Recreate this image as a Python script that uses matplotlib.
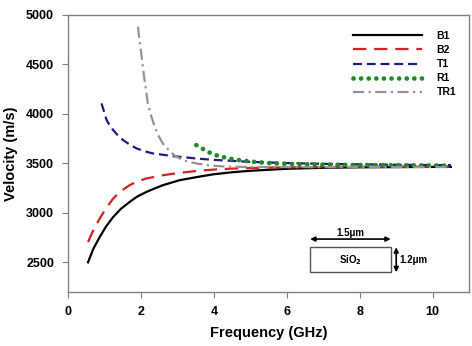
import matplotlib
matplotlib.use("Agg")
import matplotlib.pyplot as plt

plt.rcParams["font.family"] = ["Liberation Sans", "DejaVu Sans"]
plt.rcParams["font.weight"] = "bold"

# ---- data ----
b1_x = [0.55, 0.7, 0.87, 1.05, 1.24, 1.45, 1.69, 1.9, 2.15, 2.4, 2.6, 3.06, 3.56, 4.0, 4.5, 5.0, 6.0, 7.0, 8.0, 9.0, 10.0, 10.5]
b1_y = [2500, 2640, 2756, 2865, 2958, 3040, 3110, 3165, 3211, 3250, 3279, 3330, 3363, 3390, 3410, 3425, 3445, 3455, 3460, 3462, 3464, 3464]

b2_x = [0.55, 0.7, 0.87, 1.05, 1.24, 1.45, 1.69, 1.9, 2.15, 2.6, 3.06, 3.56, 4.0, 4.5, 5.0, 6.0, 7.0, 8.0, 9.0, 10.0, 10.5]
b2_y = [2705, 2830, 2942, 3050, 3145, 3220, 3279, 3318, 3347, 3380, 3404, 3424, 3437, 3447, 3453, 3460, 3463, 3465, 3466, 3466, 3466]

t1_x = [0.92, 1.0, 1.06, 1.15, 1.24, 1.35, 1.51, 1.7, 1.88, 2.1, 2.33, 2.88, 3.52, 4.0, 5.0, 6.0, 7.0, 8.0, 9.0, 10.0, 10.5]
t1_y = [4106, 4010, 3937, 3880, 3836, 3790, 3735, 3688, 3651, 3622, 3600, 3573, 3549, 3535, 3515, 3503, 3495, 3490, 3486, 3483, 3482]

r1_x = [3.52, 3.72, 3.93, 4.13, 4.34, 4.56, 5.0, 5.5, 6.0, 7.0, 8.0, 9.0, 10.0, 10.5]
r1_y = [3684, 3641, 3600, 3573, 3556, 3539, 3518, 3503, 3495, 3487, 3483, 3480, 3478, 3477]

tr1_x = [1.92, 1.96, 2.01, 2.05, 2.1, 2.15, 2.19, 2.28, 2.38, 2.48, 2.6, 2.78, 2.97, 3.2, 3.52, 3.9, 4.34, 5.0, 6.0, 7.0, 8.0, 9.0, 10.0, 10.5]
tr1_y = [4881, 4740, 4612, 4480, 4342, 4215, 4106, 3980, 3869, 3780, 3701, 3625, 3566, 3527, 3499, 3478, 3467, 3463, 3462, 3462, 3463, 3463, 3463, 3463]

x_ticks = [0, 2, 4, 6, 8, 10]
y_ticks = [2500, 3000, 3500, 4000, 4500, 5000]

# ---- figure ----
fig = plt.figure(figsize=(4.72, 3.46), dpi=100)
ax = fig.add_axes([0.144, 0.156, 0.850, 0.801])

ax.plot(b1_x, b1_y, color="black", lw=1.6, label="B1")
ax.plot(b2_x, b2_y, color="#d42222", lw=1.6, dashes=(6, 3.5), label="B2")
ax.plot(t1_x, t1_y, color="#1c1c82", lw=1.6, dashes=(4, 2.2), label="T1")
ax.plot(r1_x, r1_y, color="#1f8a1f", lw=3.4, linestyle=(0, (0.01, 1.6)),
        dash_capstyle="round", label="R1")
ax.plot(tr1_x, tr1_y, color="#949494", lw=1.6, dashes=(5, 2, 1, 2), label="TR1")

ax.set_xlim(0, 11)
ax.set_ylim(2200, 5000)
ax.set_xticks(x_ticks)
ax.set_yticks(y_ticks)
ax.tick_params(direction="out", length=4, color="#808080", labelsize=9, pad=6)
for lab in ax.get_xticklabels() + ax.get_yticklabels():
    lab.set_fontweight("bold")
for sp in ax.spines.values():
    sp.set_color("#808080")
    sp.set_linewidth(1.0)

ax.set_xlabel("Frequency (GHz)", fontsize=10.5, fontweight="bold", labelpad=6)
ax.set_ylabel("Velocity (m/s)", fontsize=10.5, fontweight="bold", labelpad=6)

leg = ax.legend(loc="upper right", bbox_to_anchor=(0.983, 0.965), frameon=False,
                fontsize=7.5, handlelength=6.6, handletextpad=1.4,
                labelspacing=0.4, borderaxespad=0.2)
for t in leg.get_texts():
    t.set_fontweight("bold")

# ---- SiO2 cross-section sketch ----
ax.add_patch(plt.Rectangle((6.64, 2400), 2.21, 252, fill=False,
                           edgecolor="#555555", lw=1.0))
ax.text(7.75, 2526, "SiO$_2$", ha="center", va="center", fontsize=7, fontweight="bold")
ax.annotate("", xy=(6.64, 2735), xytext=(8.85, 2735),
            arrowprops=dict(arrowstyle="<|-|>", color="black", lw=1.2,
                            mutation_scale=7, shrinkA=0, shrinkB=0))
ax.text(7.75, 2800, "1.5\u03bcm", ha="center", va="center", fontsize=7, fontweight="bold")
ax.annotate("", xy=(9.0, 2652), xytext=(9.0, 2400),
            arrowprops=dict(arrowstyle="<|-|>", color="black", lw=1.2,
                            mutation_scale=7, shrinkA=0, shrinkB=0))
ax.text(9.1, 2526, "1.2\u03bcm", ha="left", va="center", fontsize=7, fontweight="bold")

fig.savefig("out.png", dpi=100)
